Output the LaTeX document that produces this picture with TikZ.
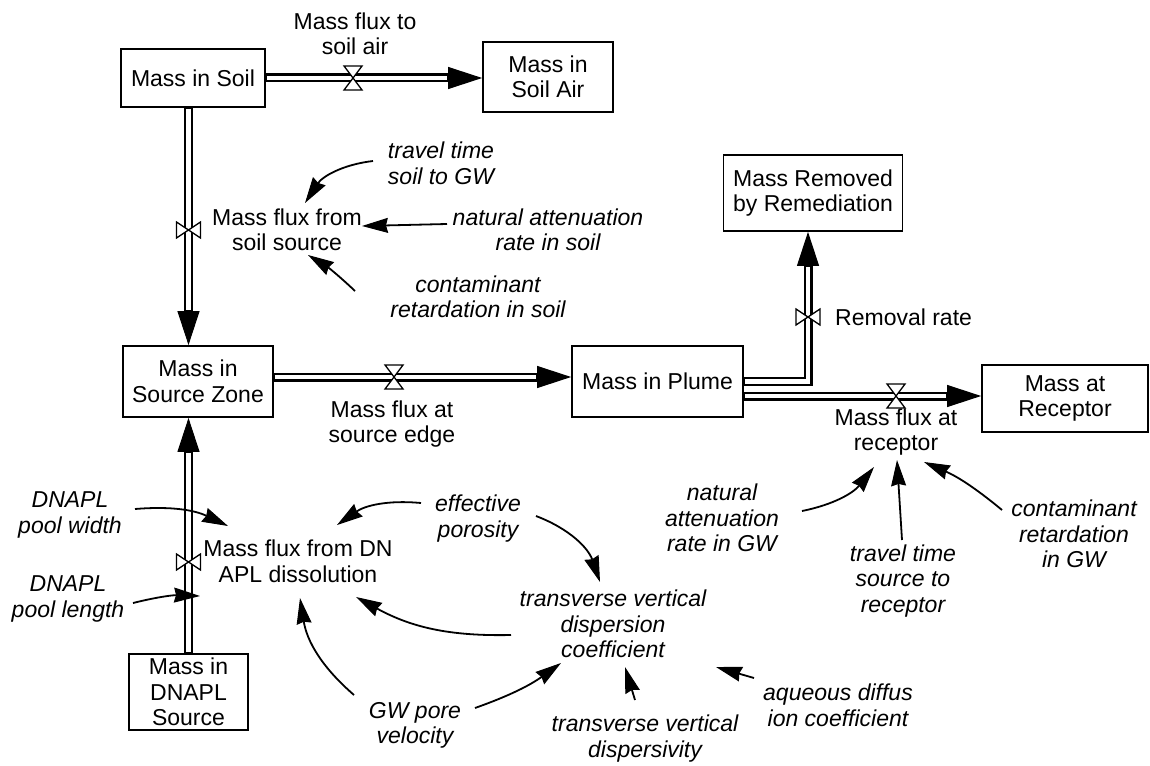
\documentclass[tikz,border=0pt]{standalone}
\usepackage{fontspec}
\setmainfont{Liberation Sans}
\usetikzlibrary{arrows.meta}
\begin{document}
\begin{tikzpicture}[x=1pt,y=-1pt,
  txt/.style={font=\fontsize{23}{25.5}\selectfont, align=center, inner sep=0pt},
  aux/.style={txt, font=\fontsize{23}{25.5}\selectfont\itshape},
  stock/.style={txt, draw, line width=1.8pt},
  link/.style={line width=1.8pt, -{Stealth[length=26pt,width=15pt,inset=2pt,line width=1pt]}},
  pipe/.style={line width=9pt, -{Triangle[length=34pt,width=22pt,line width=1pt]},
    postaction={draw=white, line width=4.5pt, -, shorten >=35pt, shorten <=1pt}},
  valveh/.pic={\draw[line width=1.3pt, fill=white] (-9,-12) -- (9,-12) -- (-9,12) -- (9,12) -- cycle;},
  valvev/.pic={\draw[line width=1.3pt, fill=white] (-12,-8) -- (-12,8) -- (12,-8) -- (12,8) -- cycle;},
]
\useasboundingbox (0,0) rectangle (1150,765);

% stocks
\node[stock, minimum width=144pt, minimum height=58pt] (soil) at (193,78) {Mass in Soil};
\node[stock, minimum width=130pt, minimum height=70pt] (soilair) at (548,77) {Mass in\\Soil Air};
\node[stock, minimum width=179pt, minimum height=76pt] (removed) at (813,193) {Mass Removed\\by Remediation};
\node[stock, minimum width=150pt, minimum height=71pt] (source) at (198,381.5) {Mass in\\Source Zone};
\node[stock, minimum width=171pt, minimum height=71pt] (plume) at (657.5,381.5) {Mass in Plume};
\node[stock, minimum width=166pt, minimum height=67pt] (receptor) at (1065,398.5) {Mass at\\Receptor};
\node[stock, minimum width=119pt, minimum height=76pt] (dnapl) at (188.5,692) {Mass in\\DNAPL\\Source};

% flow labels
\node[txt] (fSoilAir) at (355,34) {Mass flux to\\soil air};
\node[txt] (fSoilSrc) at (287,230) {Mass flux from\\soil source};
\node[txt] (fSrcEdge) at (392,424) {Mass flux at\\source edge};
\node[txt, anchor=west] (fRemoval) at (835,317) {Removal rate};
\node[txt] (fReceptor) at (896,432) {Mass flux at\\receptor};
\node[txt] (fDiss) at (298,561.5) {Mass flux from DN\\APL dissolution};

% auxiliary variables
\node[aux] (ttsoil) at (441,163.5) {travel time\\soil to GW};
\node[aux] (nasoil) at (548,230) {natural attenuation\\rate in soil};
\node[aux] (crsoil) at (478,297) {contaminant\\retardation in soil};
\node[aux] (nagw) at (722,518) {natural\\attenuation\\rate in GW};
\node[aux] (ttrec) at (903,581) {travel time\\source to\\receptor};
\node[aux] (crgw) at (1074,534) {contaminant\\retardation\\in GW};
\node[aux] (pw) at (70,515) {DNAPL\\pool width};
\node[aux] (pl) at (68,599) {DNAPL\\pool length};
\node[aux] (eff) at (478,518.5) {effective\\porosity};
\node[aux] (tvdc) at (613,624) {transverse vertical\\dispersion\\coefficient};
\node[aux] (gwv) at (415,725.5) {GW pore\\velocity};
\node[aux] (tvd) at (645,738.5) {transverse vertical\\dispersivity};
\node[aux] (aqd) at (838,705.5) {aqueous diffus\\ion coefficient};

% material flows
\coordinate (plumelow) at ([yshift=-14.5pt]plume.east);
\coordinate (srcout) at ([yshift=4.5pt]source.east);
\draw[pipe] (soil.east) -- (soil.east -| soilair.west);
\draw[pipe] (soil.south -| dnapl.north) -- (source.north -| dnapl.north);
\draw[pipe] (srcout) -- (srcout -| plume.west);
\draw[pipe] (dnapl.north) -- (dnapl.north |- source.south);
\draw[pipe] (plume.east) -| ([xshift=-5pt]removed.south);
\draw[pipe] (plumelow) -- (plumelow -| receptor.west);

% valves
\pic at (353,78) {valveh};
\pic at (188.5,230) {valvev};
\pic at (394,377) {valveh};
\pic at (188.5,562) {valvev};
\pic at (808,317) {valvev};
\pic at (896,396) {valveh};

% information links
\draw[link] ([shift={(-68,-2.5)}]ttsoil.center) to[bend right=25] ([shift={(18,-27)}]fSoilSrc.center);
\draw[link] ([shift={(-101,-6)}]nasoil.center) -- ([shift={(75,-4)}]fSoilSrc.center);
\draw[link] ([shift={(-123,-6)}]crsoil.center) to[bend right=6] ([shift={(21,25)}]fSoilSrc.center);
\draw[link] ([shift={(80,-7)}]nagw.center) to[bend right=20] ([shift={(-22,35)}]fReceptor.center);
\draw[link] ([shift={(-1,-41)}]ttrec.center) -- ([shift={(1,28)}]fReceptor.center);
\draw[link] ([shift={(-72,-24)}]crgw.center) to[bend right=8] ([shift={(28,30)}]fReceptor.center);
\draw[link] ([shift={(65,-6)}]pw.center) to[bend left=15] ([shift={(-70,-35.5)}]fDiss.center);
\draw[link] ([shift={(65,4)}]pl.center) to[bend left=8] ([shift={(-98,34.5)}]fDiss.center);
\draw[link] ([shift={(-57,-15.5)}]eff.center) to[bend right=20] ([shift={(39,-36.5)}]fDiss.center);
\draw[link] ([shift={(58,-2.5)}]eff.center) to[bend left=25] ([shift={(-13,-42)}]tvdc.center);
\draw[link] ([shift={(-102,11)}]tvdc.center) to[bend left=15] ([shift={(58,35.5)}]fDiss.center);
\draw[link] ([shift={(-61,-30.5)}]gwv.center) to[bend left=20] ([shift={(2,36.5)}]fDiss.center);
\draw[link] ([shift={(60,-17.5)}]gwv.center) to[bend right=8] ([shift={(-52,39)}]tvdc.center);
\draw[link] ([shift={(-10,-38.5)}]tvd.center) -- ([shift={(12,43)}]tvdc.center);
\draw[link] ([shift={(-84,-27.5)}]aqd.center) -- ([shift={(103,43)}]tvdc.center);
\end{tikzpicture}
\end{document}
